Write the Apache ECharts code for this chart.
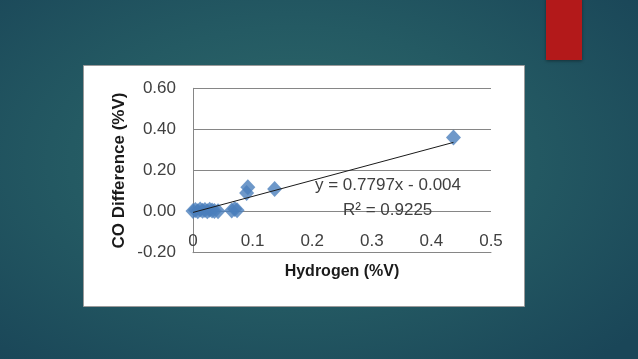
<!DOCTYPE html>
<html><head><meta charset="utf-8">
<script src="https://cdn.jsdelivr.net/npm/echarts@6/dist/echarts.min.js"></script>
<style>
html,body{margin:0;padding:0;width:638px;height:359px;overflow:hidden;
background:radial-gradient(ellipse 70% 75% at 46% 45%, #2f6a6b 0%, #245a63 50%, #1a4658 100%);}
#c{width:638px;height:359px;}
</style></head><body>
<div id="c"></div>
<script>
// data
const hydrogen = [0.000,0.004,0.008,0.012,0.016,0.020,0.024,0.028,0.032,0.036,0.042,0.065,0.070,0.074,0.090,0.092,0.137,0.437];
const coDiff   = [0.003,0.008,0.002,0.010,0.004,0.008,0.002,0.009,0.005,0.003,0.002,0.005,0.013,0.006,0.090,0.118,0.110,0.360];
const slope = 0.7797, intercept = -0.004;
const xTicks = [0,0.1,0.2,0.3,0.4,0.5];
const yTicks = [-0.2,0,0.2,0.4,0.6];

const pts = hydrogen.map((x,i)=>[x,coDiff[i]]);
const xMax = Math.max(...hydrogen);
const trend = [[0, intercept],[xMax, slope*xMax+intercept]];
const font = "'Liberation Sans',Arial,sans-serif";

const chart = echarts.init(document.getElementById('c'), null, {renderer:'canvas'});
chart.setOption({
  backgroundColor:'transparent',
  animation:false,
  graphic:[
    {type:'rect', z:-10, shape:{x:546,y:-2,width:36,height:62}, style:{fill:'#b3191a', shadowBlur:3, shadowColor:'rgba(0,0,0,0.4)', shadowOffsetY:1}},
    {type:'rect', z:-10, shape:{x:83.5,y:65.5,width:441,height:241}, style:{fill:'#ffffff', stroke:'#9a9a9a', lineWidth:1}},
    {type:'text', z:10, left:315, top:177, style:{text:'y = 0.7797x - 0.004', font:'17px '+font, fill:'#404040'}},
    {type:'text', z:10, left:343, top:202, style:{text:'R² = 0.9225', font:'17px '+font, fill:'#404040'}}
  ],
  grid:{left:193, top:88.3, right:147, bottom:106.3, containLabel:false},
  xAxis:{
    type:'value', min:xTicks[0], max:xTicks[xTicks.length-1], interval:0.1,
    name:'Hydrogen (%V)', nameLocation:'middle', nameGap:11,
    nameTextStyle:{fontFamily:font, fontWeight:'bold', fontSize:16, color:'#1a1a1a'},
    axisLine:{show:true, onZero:false, lineStyle:{color:'#868686'}},
    axisTick:{show:false},
    splitLine:{show:false},
    axisLabel:{margin:-20, fontFamily:font, fontSize:17, color:'#404040',
      formatter:v=>String(Math.round(v*10)/10)}
  },
  yAxis:{
    type:'value', min:yTicks[0], max:yTicks[yTicks.length-1], interval:0.2,
    name:'CO Difference (%V)', nameLocation:'middle', nameGap:65, nameRotate:90,
    nameTextStyle:{fontFamily:font, fontWeight:'bold', fontSize:17, color:'#1a1a1a'},
    axisLine:{show:true, lineStyle:{color:'#868686'}},
    axisTick:{show:false},
    splitLine:{show:true, lineStyle:{color:'#868686', width:1}},
    axisLabel:{margin:17, fontFamily:font, fontSize:17, color:'#404040',
      formatter:v=>v.toFixed(2)}
  },
  series:[
    {type:'scatter', data:pts, symbol:'diamond', symbolSize:[15,16],
     itemStyle:{color:'#4a7ebb'}, z:3},
    {type:'line', data:trend, symbol:'none', lineStyle:{color:'#1a1a1a', width:1}, z:4}
  ]
});
</script>
</body></html>
